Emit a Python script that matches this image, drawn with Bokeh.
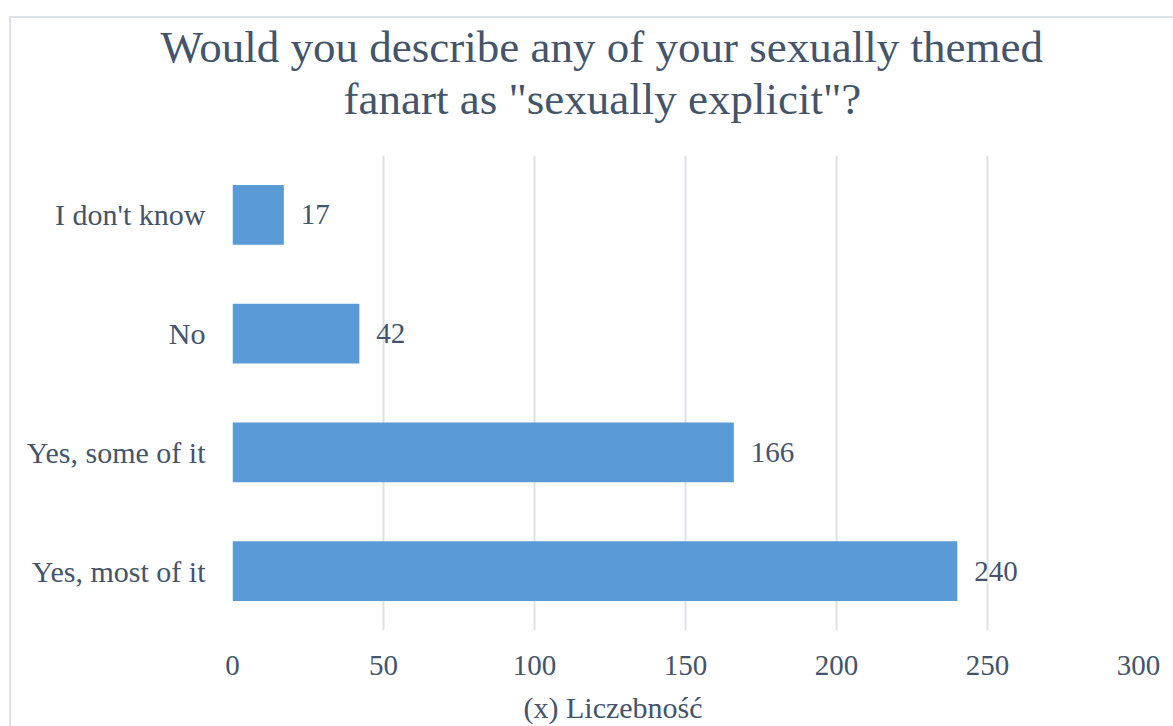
from bokeh.plotting import figure
from bokeh.models import Title, FactorRange, Range1d, ColumnDataSource
from bokeh.embed import file_html
from bokeh.resources import INLINE

categories = ["Yes, most of it", "Yes, some of it", "No", "I don't know"]
counts = [240, 166, 42, 17]
x_ticks = [0, 50, 100, 150, 200, 250, 300]
title_lines = ['Would you describe any of your sexually themed', 'fanart as "sexually explicit"?']
x_label = "(x) Liczebność"

FONT = "Liberation Serif"
TXT = "#44546a"
GRID = "#dde1e7"

src = ColumnDataSource(dict(cat=categories, val=counts, lab=[str(v) for v in counts]))

p = figure(width=1173, height=726, output_backend="svg", toolbar_location=None,
           title=None, y_range=FactorRange(*categories, range_padding=0),
           x_range=Range1d(0, 300),
           min_border_left=232, min_border_right=35, min_border_top=155, min_border_bottom=96)
p.outline_line_color = None
p.background_fill_color = "white"
p.border_fill_color = None
p.styles = {
    "background": (f"linear-gradient({GRID}, {GRID}) 9px 16px / 2px 100% no-repeat, "
                   f"linear-gradient({GRID}, {GRID}) 9px 16px / 100% 2px no-repeat, white"),
}

p.hbar(y="cat", right="val", height=0.505, left=0, source=src,
       fill_color="#5a9bd7", line_color=None)
p.text(x="val", y="cat", text="lab", source=src, x_offset=17,
       text_align="left", text_baseline="middle", text_color=TXT,
       text_font={"value": FONT}, text_font_size="29px")

p.xaxis.ticker = x_ticks
p.xaxis.axis_line_color = None
p.xaxis.major_tick_line_color = None
p.xaxis.minor_tick_line_color = None
p.xaxis.major_tick_out = 0
p.xaxis.major_tick_in = 0
p.xaxis.major_label_text_font = FONT
p.xaxis.major_label_text_font_size = "29px"
p.xaxis.major_label_text_color = TXT
p.xaxis.major_label_standoff = 25

p.yaxis.axis_line_color = None
p.yaxis.major_tick_line_color = None
p.yaxis.minor_tick_line_color = None
p.yaxis.major_tick_out = 0
p.yaxis.major_tick_in = 0
p.yaxis.major_label_text_font = FONT
p.yaxis.major_label_text_font_size = "30px"
p.yaxis.major_label_text_color = TXT
p.yaxis.major_label_standoff = 27

p.ygrid.grid_line_color = None
p.xgrid.grid_line_color = GRID
p.xgrid.grid_line_width = 2

def spacer(gap):
    return Title(text=" ", standoff=gap, text_font_size="1px", text_color="white")

# below the frame: spacer, then the axis title
p.add_layout(spacer(8), "below")
p.add_layout(Title(text=x_label, align="left", offset=291, standoff=0, text_font=FONT,
                   text_font_size="30px", text_font_style="normal", text_color=TXT), "below")
# above the frame: spacer, then the two title lines
p.add_layout(spacer(29), "above")
p.add_layout(Title(text=title_lines[1], align="left", offset=111, standoff=0, text_font=FONT,
                   text_font_size="45px", text_font_style="normal", text_color=TXT), "above")
p.add_layout(Title(text=title_lines[0], align="left", offset=-72, standoff=0, text_font=FONT,
                   text_font_size="45px", text_font_style="normal", text_color=TXT), "above")

open("out.html", "w").write(file_html(p, INLINE))
